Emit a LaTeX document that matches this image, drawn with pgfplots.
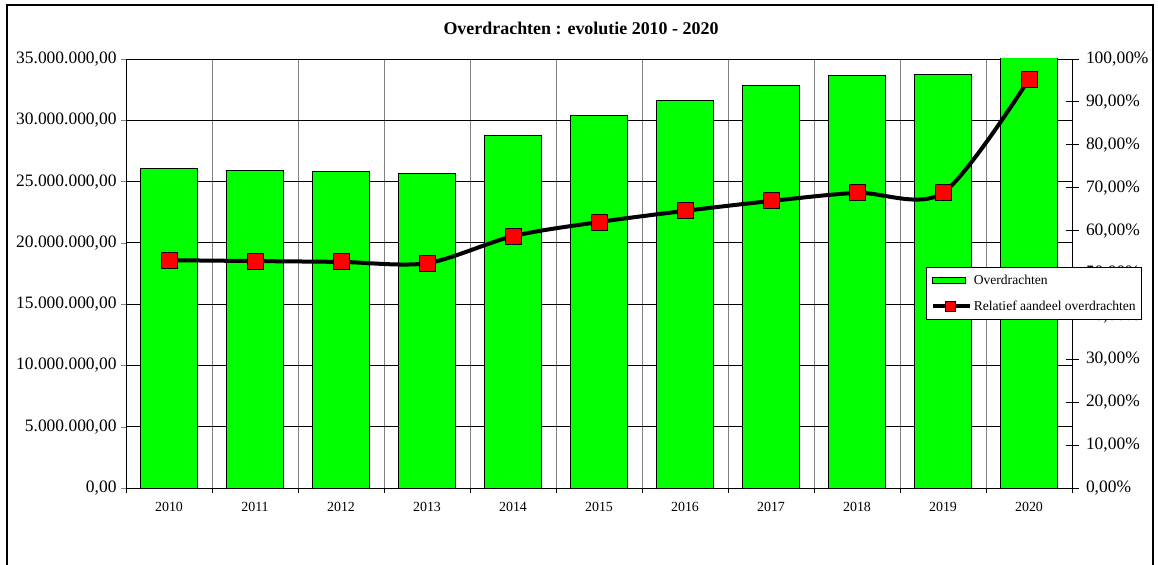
\documentclass[border=0pt]{standalone}
\usepackage{pgfplots}
\pgfplotsset{compat=1.18}
\usepackage{fontspec}
\setmainfont{Liberation Serif}
\definecolor{xlgreen}{RGB}{0,255,0}
\definecolor{xlred}{RGB}{255,0,0}
\begin{document}
\begin{tikzpicture}[x=1bp,y=1bp]
\begin{axis}[
  at={(126bp,77bp)}, anchor=south west,
  scale only axis, width=946bp, height=429bp,
  xmin=-0.5, xmax=10.5, ymin=0, ymax=35000000,
  axis line style={black, line width=0.9bp},
  xtick={0,1,2,3,4,5,6,7,8,9,10},
  xticklabels={2010,2011,2012,2013,2014,2015,2016,2017,2018,2019,2020},
  minor xtick={-0.5,0.5,1.5,2.5,3.5,4.5,5.5,6.5,7.5,8.5,9.5,10.5},
  xtick pos=bottom, ytick pos=left,
  major x tick style={draw=none},
  minor x tick style={black, line width=0.8bp},
  minor tick length=5bp, major tick length=5bp,
  tick align=outside,
  xminorgrids=true,
  minor x grid style={gray, line width=0.8bp},
  ymajorgrids=true,
  major y grid style={black, line width=0.8bp},
  ytick={0,5000000,10000000,15000000,20000000,25000000,30000000,35000000},
  scaled y ticks=false,
  yticklabel style={font=\fontsize{17.5}{20}\selectfont, xshift=-1bp, /pgf/number format/.cd, fixed, fixed zerofill, precision=2, 1000 sep={.}, dec sep={,}, assume math mode=true},
  xticklabel style={font=\fontsize{14}{16}\selectfont, yshift=-6bp},
  ybar, bar width=0.66,
  clip=true,
]
\addplot[ybar, fill=xlgreen, draw=black, line width=1bp] coordinates {
(0,26030000) (1,25940000) (2,25800000) (3,25680000) (4,28720000) (5,30370000)
(6,31600000) (7,32800000) (8,33640000) (9,33700000) (10,36500000)};
\end{axis}
\begin{axis}[
  at={(126bp,77bp)}, anchor=south west,
  scale only axis, width=946bp, height=429bp,
  xmin=-0.5, xmax=10.5, ymin=0, ymax=100,
  axis y line*=right, hide x axis,
  axis line style={black, line width=0.9bp},
  ytick={0,10,20,30,40,50,60,70,80,90,100},
  tick align=center, major tick length=13bp,
  ytick style={black, line width=0.8bp},
  yticklabel={\pgfmathprintnumber[fixed,fixed zerofill,precision=2,dec sep={,},assume math mode=true]{\tick}\%},
  yticklabel style={font=\fontsize{17.5}{20}\selectfont, xshift=4bp},
  legend style={at={(1.074,0.515)}, anchor=north east, draw=black, line width=0.8bp, fill=white,
    font=\fontsize{13.6}{16}\selectfont, row sep=11bp, inner xsep=4bp, inner ysep=5.5bp},
  legend cell align=left,
  clip=false,
]
\addlegendimage{legend image code/.code={\draw[fill=xlgreen, draw=black, line width=1bp] (0bp,-3bp) rectangle (33bp,3bp);}}
\addlegendentry{Overdrachten}
\addplot[black, line width=4bp, smooth, tension=0.5, mark=square*, mark size=8bp,
  mark options={fill=xlred, draw=black, line width=1bp, solid},
  legend image code/.code={\draw[black, line width=4bp] (0bp,0bp) -- (37bp,0bp);
    \draw[fill=xlred, draw=black, line width=1bp] (13bp,-5bp) rectangle (23bp,5bp);}]
coordinates {
(0,53.1) (1,52.9) (2,52.7) (3,52.4) (4,58.7) (5,62.0)
(6,64.6) (7,66.9) (8,68.8) (9,68.8) (10,95.3)};
\addlegendentry{Relatief aandeel overdrachten}
\end{axis}
\node[font=\fontsize{18}{21}\selectfont\bfseries] at (581bp,537bp) {Overdrachten : evolutie 2010 - 2020};
\draw[black, line width=1.5bp] (7bp,-20bp) -- (7bp,560bp) -- (1153bp,560bp) -- (1153bp,-20bp);
\pgfresetboundingbox
\path (0bp,0bp) rectangle (1158bp,565bp);
\end{tikzpicture}
\end{document}
